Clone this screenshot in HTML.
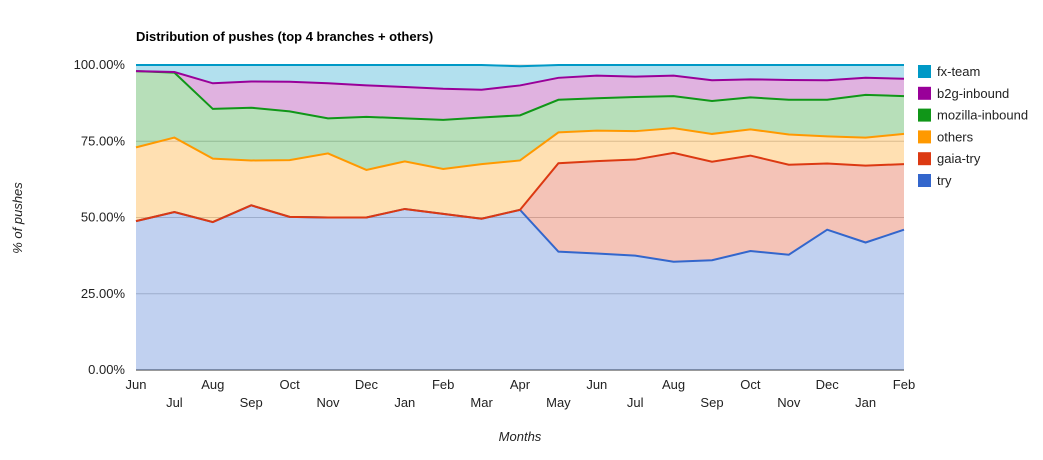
<!DOCTYPE html>
<html><head><meta charset="utf-8"><style>
body{margin:0;background:#fff;font-family:"Liberation Sans",Arial,sans-serif}
svg text{font-family:"Liberation Sans",Arial,sans-serif}
</style></head><body>
<svg id="c" width="1043" height="455">
<text x="136" y="41" font-size="13" font-weight="bold" fill="#000">Distribution of pushes (top 4 branches + others)</text>
<text transform="translate(22,218) rotate(-90)" text-anchor="middle" font-size="13" font-style="italic" fill="#222">% of pushes</text>
<text x="520" y="441" text-anchor="middle" font-size="13" font-style="italic" fill="#222">Months</text>
<g id="grid"></g><g id="areas"></g><g id="lines"></g><g id="xt"></g><g id="yt"></g><g id="legend"></g>
</svg>
<script>
const months=["Jun","Jul","Aug","Sep","Oct","Nov","Dec","Jan","Feb","Mar","Apr","May","Jun","Jul","Aug","Sep","Oct","Nov","Dec","Jan","Feb"];
const yTicks=[0,25,50,75,100];
const yTickLabels=["0.00%","25.00%","50.00%","75.00%","100.00%"];
const seriesNames=["try","gaia-try","others","mozilla-inbound","b2g-inbound","fx-team"];
const tryVals=[48.8,51.8,48.5,54,50.2,50,50,52.8,51.2,49.6,52.5,38.8,38.2,37.5,35.5,36,39,37.8,46,41.8,46];
const gaiaVals=[0,0,0,0,0,0,0,0,0,0,0,29,30.3,31.5,35.7,32.3,31.3,29.5,21.7,25.2,21.5];
const othersVals=[24.2,24.4,20.8,14.7,18.6,21,15.6,15.6,14.7,17.9,16.2,10.1,10,9.3,8.1,9.1,8.6,9.9,8.9,9.2,9.9];
const mozVals=[25,21.3,16.3,17.3,16,11.5,17.4,14.1,16.1,15.3,14.8,10.7,10.6,11.2,10.5,10.8,10.5,11.4,12,14,12.4];
const b2gVals=[0,0.2,8.4,8.6,9.7,11.5,10.3,10.3,10.2,9.1,9.8,7.2,7.4,6.7,6.7,6.8,5.9,6.5,6.4,5.6,5.7];
const fxVals=[2,2.3,6,5.4,5.5,6,6.7,7.2,7.8,8.1,6.3,4.2,3.5,3.8,3.5,5,4.7,4.9,5,4.2,4.5];
const colors=["#3366cc","#dc3912","#ff9900","#109618","#990099","#0099c6"];
const NS="http://www.w3.org/2000/svg";
const X0=136,X1=904,Y0=370,Y1=65;
const xs=i=>X0+(X1-X0)*i/(months.length-1);
const ys=v=>Y0-(Y0-Y1)*v/100;
function mk(t,a,p){const e=document.createElementNS(NS,t);for(const k in a)e.setAttribute(k,a[k]);document.getElementById(p).appendChild(e);return e;}
yTicks.forEach((t,i)=>{
 const l=mk("line",{x1:X0,x2:X1,y1:ys(t),y2:ys(t),stroke:i==0?"#333":"#ccc","stroke-width":1},"grid");
 
 
 const tx=mk("text",{x:X0-11,y:ys(t)+4,"text-anchor":"end","font-size":"13",fill:"#222"},"yt");
 tx.textContent=yTickLabels[i];
 
 
});
months.forEach((m,i)=>{
 const tx=mk("text",{x:xs(i),y:i%2?407:389,"text-anchor":"middle","font-size":"13",fill:"#222"},"xt");
 tx.textContent=m;
 
 
});
const all=[tryVals,gaiaVals,othersVals,mozVals,b2gVals,fxVals];
let base=months.map(()=>0);
all.forEach((vals,s)=>{
 const top=base.map((b,i)=>b+vals[i]);
 let d="M"+top.map((v,i)=>xs(i)+","+ys(v)).join(" L");
 d+=" L"+base.map((v,i)=>xs(i)+","+ys(v)).reverse().join(" L")+" Z";
 const a=mk("path",{d:d,fill:colors[s],"fill-opacity":0.3,stroke:"none"},"areas");
 
 
 const ln=mk("polyline",{points:top.map((v,i)=>xs(i)+","+ys(v)).join(" "),fill:"none",stroke:colors[s],"stroke-width":2},"lines");
 
 
 base=top;
});
for(let k=0;k<6;k++){
 const s=5-k,y=65+k*21.8;
 const r=mk("rect",{x:918,y:y,width:13,height:13,fill:colors[s]},"legend");
 
 
 const t=mk("text",{x:937,y:y+11,"font-size":"13",fill:"#222"},"legend");
 t.textContent=seriesNames[s];
 
 
}
</script>
</body></html>
